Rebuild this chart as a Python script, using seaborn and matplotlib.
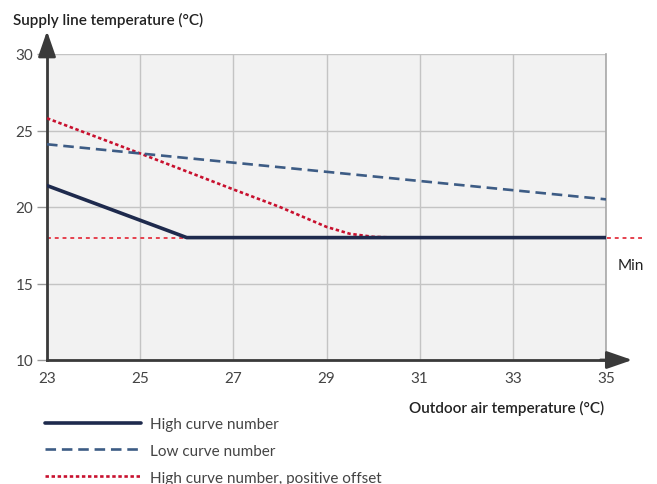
import matplotlib
matplotlib.use("Agg")
import matplotlib.pyplot as plt
import seaborn as sns
import numpy as np
import pandas as pd

# ---- data ----
outdoor_high = [23, 26, 35]
supply_high = [21.4, 18.0, 18.0]

outdoor_low = [23, 35]
supply_low = [24.1, 20.5]

outdoor_offset = [23, 25, 27, 28, 28.5, 29, 29.5, 30, 30.5, 35]
supply_offset = [25.8, 23.5, 21.15, 20.0, 19.35, 18.7, 18.25, 18.05, 18.0, 18.0]

outdoor_min = [23, 35.83]
supply_min = [18.0, 18.0]

x_ticks = [23, 25, 27, 29, 31, 33, 35]
y_ticks = [10, 15, 20, 25, 30]

labels = ["High curve number", "Low curve number", "High curve number, positive offset"]

sns.set_theme(style="white")
plt.rcParams['font.family'] = ['Lato', 'DejaVu Sans']

fig = plt.figure(figsize=(6.57, 4.85), dpi=100)
ax = fig.add_axes([47/657, 1-361/485, (606-47)/657, (361-55)/485])
ax.set_facecolor("#f2f2f2")

# min line (behind)
sns.lineplot(x=outdoor_min, y=supply_min, ax=ax, color="#e5414e",
             lw=1.4, linestyle=(0, (2, 2)), label="_nolegend_")
ax.lines[-1].set_clip_on(False)

sns.lineplot(x=outdoor_offset, y=supply_offset, ax=ax, color="#c8102e",
             lw=1.9, linestyle=(0, (1.3, 1.0)), label=labels[2], zorder=3)
sns.lineplot(x=outdoor_low, y=supply_low, ax=ax, color="#3d5c85",
             lw=1.9, linestyle=(0, (4, 2.2)), label=labels[1], zorder=3)
sns.lineplot(x=outdoor_high, y=supply_high, ax=ax, color="#1e2a4d",
             lw=2.6, label=labels[0], zorder=4)

ax.set_xlim(23, 35)
ax.set_ylim(10, 30)
ax.set_xticks(x_ticks)
ax.set_yticks(y_ticks)
ax.set_xticklabels([str(v) for v in x_ticks])
ax.set_yticklabels([str(v) for v in y_ticks])
ax.grid(True, color="#c4c4c4", lw=1.0)
ax.set_axisbelow(True)
ax.set_xlabel("")
ax.set_ylabel("")

ax.spines["top"].set_visible(False)
ax.spines["right"].set_color("#a8a8a8")
ax.spines["right"].set_linewidth(1.2)
for s in ["left", "bottom"]:
    ax.spines[s].set_color("#3a3a3a")
    ax.spines[s].set_linewidth(2.0)

ax.tick_params(axis="y", length=7, width=1, color="#999999", labelsize=11,
               labelcolor="#444444", pad=3, left=True)
ax.tick_params(axis="x", length=0, labelsize=11, labelcolor="#444444", pad=8)

# arrows
ax.annotate("", xy=(0, 1.075), xytext=(0, 0.99), xycoords="axes fraction",
            arrowprops=dict(arrowstyle="-|>,head_length=1.3,head_width=0.45",
                            color="#3a3a3a", lw=2.0, shrinkA=0, shrinkB=0),
            annotation_clip=False)
ax.annotate("", xy=(1.047, 0), xytext=(0.99, 0), xycoords="axes fraction",
            arrowprops=dict(arrowstyle="-|>,head_length=1.3,head_width=0.45",
                            color="#3a3a3a", lw=2.0, shrinkA=0, shrinkB=0),
            annotation_clip=False)

fig.text(13/657, 1-20/485, "Supply line temperature (°C)", fontsize=11,
         fontweight="semibold", color="#222222", ha="left", va="center")
fig.text(604/657, 1-408/485, "Outdoor air temperature (°C)", fontsize=11,
         fontweight="semibold", color="#222222", ha="right", va="center")
fig.text(631/657, 1-266/485, "Min", fontsize=11, color="#222222",
         ha="center", va="center")

h, l = ax.get_legend_handles_labels()
hd = dict(zip(l, h))
leg = fig.legend([hd[k] for k in labels], labels, loc="upper left",
                 bbox_to_anchor=(45/657, 1-418/485), frameon=False,
                 handlelength=6.3, handletextpad=0.6,
                 labelspacing=0.84, borderpad=0, borderaxespad=0,
                 prop={"size": 11})
for t in leg.get_texts():
    t.set_color("#444444")
ax.get_legend().remove()

fig.savefig("out.png", dpi=100)
